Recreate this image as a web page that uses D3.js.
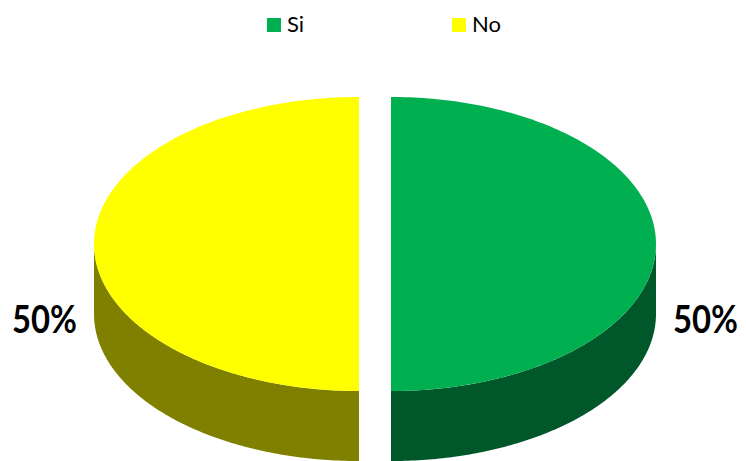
<!DOCTYPE html>
<html>
<head>
<meta charset="utf-8">
<script src="https://cdn.jsdelivr.net/npm/d3@7"></script>
<style>
  html, body { margin: 0; padding: 0; background: #fff; }
  svg { display: block; }
</style>
</head>
<body>
<svg id="chart" width="746" height="461"></svg>
<script>
// Answers and their counts
const categories = ["Si", "No"];
const values = [50, 50];
const topColors = ["#00B050", "#FFFF00"];
const sideColors = ["#00582A", "#808000"];

const W = 746, H = 461;
const cx = 375, cy = 244;       // centre of the top face
const rx = 265, ry = 147;       // ellipse radii of the top face
const depth = 70;               // thickness of the disc
const explode = 16;             // each slice pulled out from centre

const svg = d3.select("#chart");

const topColor = d3.scaleOrdinal().domain(categories).range(topColors);
const sideColor = d3.scaleOrdinal().domain(categories).range(sideColors);

const pie = d3.pie().sort(null).value(d => d.value);
const data = categories.map((c, i) => ({ name: c, value: values[i] }));
const arcs = pie(data);
const total = d3.sum(values);
const pct = d3.format(".0%");

// point on the tilted ellipse for a d3 pie angle (0 = 12 o'clock, clockwise)
function pt(a, ox, oy, dy) {
  return [ox + rx * Math.sin(a), oy - ry * Math.cos(a) + (dy || 0)];
}
function sample(a0, a1, n) {
  return d3.range(n + 1).map(i => a0 + (a1 - a0) * i / n);
}
const line = d3.line().curve(d3.curveLinear);

const slices = arcs.map(a => {
  const mid = (a.startAngle + a.endAngle) / 2;
  return {
    arc: a,
    ox: cx + explode * Math.sin(mid),
    oy: cy - explode * Math.cos(mid) * (ry / rx)
  };
});

// front walls of each slice
const sides = svg.append("g");
slices.forEach(s => {
  const lo = Math.max(s.arc.startAngle, Math.PI / 2);
  const hi = Math.min(s.arc.endAngle, 3 * Math.PI / 2);
  if (hi <= lo) return;
  const angs = sample(lo, hi, 120);
  const topEdge = angs.map(a => pt(a, s.ox, s.oy, 0));
  const botEdge = angs.slice().reverse().map(a => pt(a, s.ox, s.oy, depth));
  sides.append("path")
    .attr("d", line(topEdge.concat(botEdge)) + "Z")
    .attr("fill", sideColor(s.arc.data.name));
});

// top faces
const tops = svg.append("g");
slices.forEach(s => {
  const angs = sample(s.arc.startAngle, s.arc.endAngle, 180);
  const pts = [[s.ox, s.oy]].concat(angs.map(a => pt(a, s.ox, s.oy, 0)));
  tops.append("path")
    .attr("d", line(pts) + "Z")
    .attr("fill", topColor(s.arc.data.name));
});

// percentage labels beside each slice, squeezed horizontally to a narrow face
const labelWidth = 65;
const labels = svg.append("g")
  .attr("font-family", "Lato, 'Open Sans', sans-serif")
  .attr("font-weight", "bold")
  .attr("font-size", 39)
  .attr("fill", "#000");
slices.forEach(s => {
  const mid = (s.arc.startAngle + s.arc.endAngle) / 2;
  const right = Math.sin(mid) > 0;
  const x0 = right ? s.ox + rx + 17 : s.ox - rx - 17 - labelWidth;
  const g = labels.append("g");
  const t = g.append("text")
    .attr("x", 0)
    .attr("y", 0)
    .text(pct(s.arc.data.value / total));
  const natural = t.node().getComputedTextLength() || labelWidth;
  g.attr("transform", `translate(${x0},${cy + 89}) scale(${labelWidth / natural},1)`);
});

// legend across the top
const legendX = d3.scalePoint().domain(categories).range([267, 452]);
const legend = svg.append("g")
  .attr("font-family", "Lato, 'Open Sans', sans-serif")
  .attr("font-size", 22)
  .attr("fill", "#000");
categories.forEach(c => {
  const g = legend.append("g").attr("transform", `translate(${legendX(c)},18)`);
  g.append("rect").attr("width", 14).attr("height", 14).attr("fill", topColor(c));
  g.append("text").attr("x", 20).attr("y", 14).text(c);
});
</script>
</body>
</html>
